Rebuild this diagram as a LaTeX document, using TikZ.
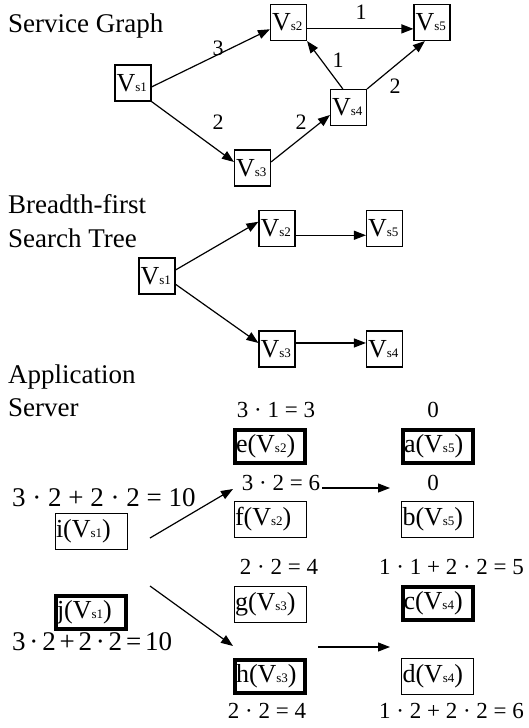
\documentclass[tikz,border=0pt]{standalone}
\usepackage{fontspec}
\setmainfont{Liberation Serif}
\usetikzlibrary{arrows.meta}
\newcommand\fsz[1]{\fontsize{#1}{#1}\selectfont}
\newcommand\subx[1]{{\fsz{13}#1}}
\newcommand\tk{\kern3.8pt}
\begin{document}
\begin{tikzpicture}[x=1pt,y=-1pt,
  gnode/.style={draw, line width=1.1pt, minimum width=36pt, minimum height=36pt, inner xsep=1.5pt, inner ysep=0pt, text width=33pt, align=left, font=\fsz{26}},
  abox/.style={draw, line width=0.9pt, inner xsep=1pt, inner ysep=0pt, text width=70pt, minimum height=36pt, align=left, font=\fsz{26}},
  tbox/.style={draw, line width=4pt, inner xsep=1pt, inner ysep=0pt, text width=68pt, minimum height=33pt, align=left, font=\fsz{26}},
  arr/.style={-{Triangle[length=12pt,width=9pt]}, line width=1.2pt},
  title/.style={font=\fsz{27}, anchor=base west, inner sep=0pt},
  wlab/.style={font=\fsz{22}, inner sep=0pt},
  eq/.style={font=\fsz{23}, anchor=base, inner sep=0pt},
  bigeq/.style={font=\fsz{27}, anchor=base west, inner sep=0pt}]
\useasboundingbox[fill=white] (0,0) rectangle (529,728);

% titles
\node[title] (t1) at (8,32) {Service Graph};
\node[title] (t2) at (8,213) {Breadth-first};
\node[title] (t3) at (8,247) {Search Tree};
\node[title] (t4) at (8,383) {Application};
\node[title] (t5) at (8,416) {Server};

% service graph
\node[gnode] (s1) at (133,83) {V\subx{s1}};
\node[gnode] (s2) at (288.5,22.5) {V\subx{s2}};
\node[gnode] (s5) at (432,22.5) {V\subx{s5}};
\node[gnode] (s4) at (348.5,107.5) {V\subx{s4}};
\node[gnode] (s3) at (252.5,168) {V\subx{s3}};

\draw[arr] (s1.-12) -- (s2.200);
\draw[arr] (s1.south east) -- (s3.162);
\draw[arr] (s3.18) -- (s4.202);
\draw[arr] (s4.107) -- (s2.south east);
\draw[arr] (s4.north east) -- (s5.249);
\draw[arr] (s2.-19) -- (s5.199);

\node[wlab] (w1) at (218,48) {3};
\node[wlab] (w2) at (218,122) {2};
\node[wlab] (w3) at (301,122) {2};
\node[wlab] (w4) at (338,60) {1};
\node[wlab] (w5) at (395,86) {2};
\node[wlab] (w6) at (361,12) {1};

% BFS tree
\node[gnode] (b1) at (157,276) {V\subx{s1}};
\node[gnode] (b2) at (277,228.5) {V\subx{s2}};
\node[gnode] (b5) at (384.5,228.5) {V\subx{s5}};
\node[gnode] (b3) at (277,349) {V\subx{s3}};
\node[gnode] (b4) at (384.5,349) {V\subx{s4}};

\draw[arr] (b1.18) -- (b2.160);
\draw[arr] (b1.-24) -- (b3.162);
\draw[arr] (b2.-20) -- (b5.200);
\draw[arr] (b3.18) -- (b4.162);

% application server
\node[tbox] (e) at (270,446.5) {e(V\subx{s2})};
\node[tbox] (a) at (438,446.5) {a(V\subx{s5})};
\node[abox] (f) at (270,519) {f(V\subx{s2})};
\node[abox] (b) at (437.5,519) {b(V\subx{s5})};
\node[abox] (i) at (91,531.5) {i(V\subx{s1})};
\node[tbox] (j) at (91,612) {j(V\subx{s1})};
\node[abox] (g) at (270,604) {g(V\subx{s3})};
\node[tbox] (c) at (437.5,603) {c(V\subx{s4})};
\node[tbox] (h) at (270,676) {h(V\subx{s3})};
\node[abox] (d) at (437.5,676.5) {d(V\subx{s4})};

\node[eq] (q1) at (276,417) {3 · 1 = 3};
\node[eq] (q2) at (433,417) {0};
\node[eq] (q3) at (281,490) {3 · 2 = 6};
\node[eq] (q4) at (433,490) {0};
\node[eq] (q5) at (279,574) {2 · 2 = 4};
\node[eq] (q6) at (451.5,574) {1 · 1 + 2 · 2 = 5};
\node[eq] (q7) at (267,718) {2 · 2 = 4};
\node[eq] (q8) at (451.5,718) {1 · 2 + 2 · 2 = 6};
\node[bigeq] (q9) at (12,506) {3 · 2 + 2 · 2 = 10};
\node[bigeq] (q10) at (12,650) {3\tk·\tk2\tk+\tk2\tk·\tk2\tk=\tk10};

\coordinate (p1) at (150,538);
\coordinate (p2) at (233,489);
\coordinate (p3) at (322,488);
\coordinate (p4) at (390,488);
\coordinate (p5) at (150,586);
\coordinate (p6) at (233,646);
\coordinate (p7) at (318,647);
\coordinate (p8) at (390,647);
\draw[arr] (p1) -- (p2);
\draw[arr] (p3) -- (p4);
\draw[arr] (p5) -- (p6);
\draw[arr] (p7) -- (p8);
\end{tikzpicture}
\end{document}
